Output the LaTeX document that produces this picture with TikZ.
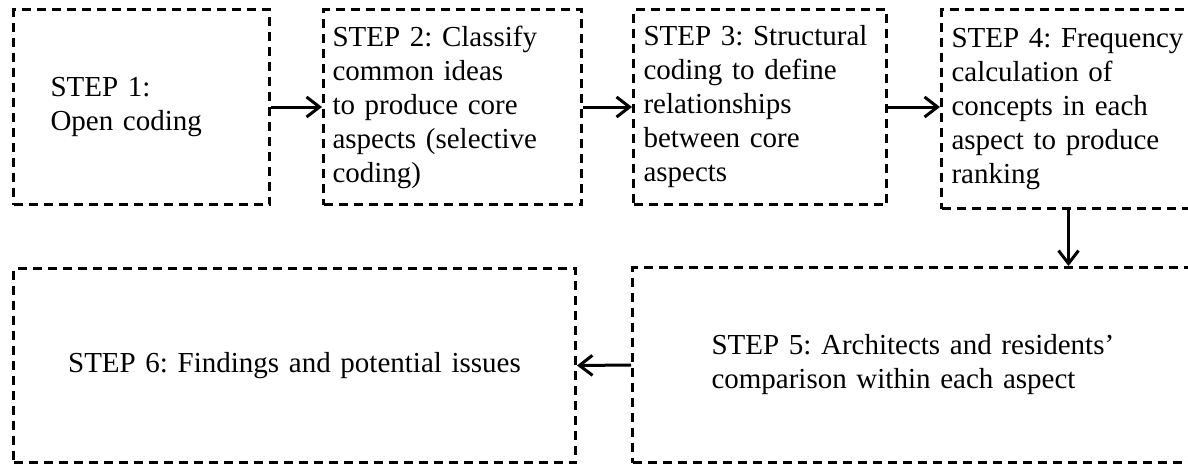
\documentclass[tikz,border=0pt]{standalone}
\usepackage{fontspec}
\setmainfont{Liberation Serif}
\usetikzlibrary{arrows.meta}
\newcommand{\stepfont}{\fontsize{29}{34}\selectfont\frenchspacing\hyphenpenalty=10000}

\begin{document}
\begin{tikzpicture}[x=1pt, y=-1pt,
        stepbox/.style={draw, line width=3pt, dash pattern=on 9pt off 6pt,
            anchor=north west, align=left, font=\stepfont, inner ysep=0pt},
        flow/.style={-{Straight Barb[length=13pt, width=20pt, line width=3pt]}, line width=3pt}]
            \useasboundingbox (0,0) rectangle (1188,464);
            \clip (0,0) rectangle (1188,464);
            % upper row
            \node[stepbox, minimum width=256pt, minimum height=195pt, inner xsep=37pt, text width=182pt] (s1) at (12,8) {STEP 1:\\Open coding};
            \node[stepbox, minimum width=258pt, minimum height=195pt, inner xsep=9pt, text width=240pt] (s2) at (322,8) {STEP 2: Classify\\common ideas\\to produce core\\aspects (selective\\coding)};
            \node[stepbox, minimum width=253pt, minimum height=195pt, inner xsep=10pt, text width=233pt] (s3) at (632,8) {STEP 3: Structural\\coding to define\\relationships\\between core\\aspects};
            \node[stepbox, minimum width=254pt, minimum height=199pt, inner xsep=10pt, text width=234pt] (s4) at (940,8) {STEP 4: Frequency\\calculation of\\concepts in each\\aspect to produce\\ranking};
            % lower row
            \node[stepbox, minimum width=580pt, minimum height=195pt, inner xsep=79pt, text width=422pt] (s5) at (631,266) {STEP 5: Architects and residents’\\comparison within each aspect};
            \node[stepbox, align=center, minimum width=562pt, minimum height=194pt, inner xsep=11pt, text width=540pt] (s6) at (12,267) {STEP 6: Findings and potential issues};
            % flow
            \draw[flow] (s1.east) -- (s2.west);
            \draw[flow] (s2.east) -- (s3.west);
            \draw[flow] (s3.east) -- (s3.east -| s4.west);
            \draw[flow] (s4.south) -- (s4.south |- s5.north);
            \draw[flow] (s5.west) -- (s6.east);
        \end{tikzpicture}
\end{document}
